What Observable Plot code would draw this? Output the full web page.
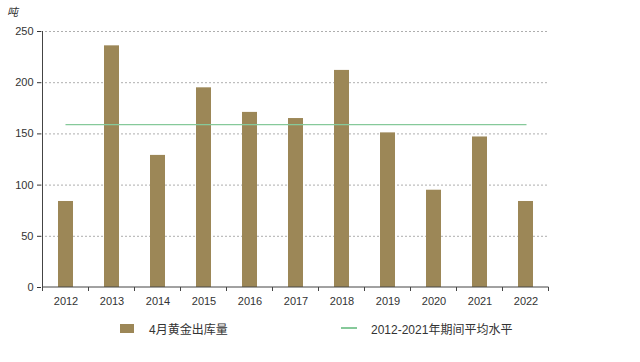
<!DOCTYPE html>
<html><head><meta charset="utf-8">
<script src="https://cdn.jsdelivr.net/npm/d3@7"></script>
<script src="https://cdn.jsdelivr.net/npm/@observablehq/plot@0.6"></script>
<style>
body{margin:0;background:#fff;font-family:"Liberation Sans","Noto Sans CJK SC",sans-serif;}
#wrap{position:relative;width:640px;height:362px;}
#unit{position:absolute;left:7px;top:3px;font-size:11px;color:#333;font-style:italic;}
#legend{position:absolute;top:318px;left:0;width:640px;height:20px;font-size:12px;color:#333;}
.item{position:absolute;top:0;display:flex;align-items:center;height:20px;}
</style>
</head><body>
<div id="wrap">
<div id="unit">吨</div>
<div id="chart"></div>
<div id="legend">
  <div class="item" style="left:120px"><span style="display:inline-block;width:14px;height:9px;background:#9c8757;margin-right:15px"></span>4月黄金出库量</div>
  <div class="item" style="left:341px"><span style="display:inline-block;width:16px;height:1.5px;background:#86c99a;margin-right:14px"></span>2012-2021年期间平均水平</div>
</div>
</div>
<script>
const years = ["2012","2013","2014","2015","2016","2017","2018","2019","2020","2021","2022"];
const outflow = [84, 236, 129, 195, 171, 165, 212, 151, 95, 147, 84];
const avgLevel = 159;
const yTicks = [0, 50, 100, 150, 200, 250];

const bars = years.map((y, i) => ({year: y, value: outflow[i]}));
const avgLine = [{year: years[0], value: avgLevel}, {year: years[years.length - 1], value: avgLevel}];

// custom axis frame: left axis line + baseline + x tick marks at band boundaries
function frameMark(index, scales, values, dims) {
  const x = scales.x, y = scales.y;
  const g = d3.create("svg:g").attr("stroke", "#444").attr("stroke-width", 1);
  const bw = x.bandwidth();
  const step = x.step();
  const left = x(years[0]) - (step - bw) / 2;
  const right = left + years.length * step;
  g.append("line").attr("x1", left).attr("x2", left).attr("y1", y(0)).attr("y2", y(250));
  for (let i = 0; i <= years.length; i++) {
    const px = left + i * step;
    g.append("line").attr("x1", px).attr("x2", px).attr("y1", y(0)).attr("y2", y(0) + 4);
  }
  g.append("line").attr("x1", left).attr("x2", right).attr("y1", y(0)).attr("y2", y(0));
  return g.node();
}

const chart = Plot.plot({
  width: 640,
  height: 314,
  marginLeft: 41,
  marginRight: 91,
  marginTop: 31,
  marginBottom: 27,
  style: {fontFamily: "Liberation Sans, Arial, sans-serif", fontSize: "11px", color: "#333", background: "transparent"},
  x: {domain: years, paddingInner: 0.68, paddingOuter: 0.34, label: null},
  y: {domain: [0, 250], ticks: yTicks, label: null},
  marks: [
    Plot.gridY(yTicks.filter(d => d > 0), {stroke: "#999", strokeOpacity: 1, strokeDasharray: "2,2", strokeWidth: 0.8}),
    Plot.barY(bars, {x: "year", y: "value", fill: "#9c8757"}),
    Plot.line(avgLine, {x: "year", y: "value", stroke: "#86c99a", strokeWidth: 1.3}),
    Plot.axisX({tickSize: 0, tickPadding: 10, fontSize: 11}),
    Plot.axisY({ticks: yTicks, tickSize: 4, tickPadding: 4, fontSize: 11}),
    frameMark
  ]
});
document.getElementById("chart").appendChild(chart);
</script>
</body></html>
